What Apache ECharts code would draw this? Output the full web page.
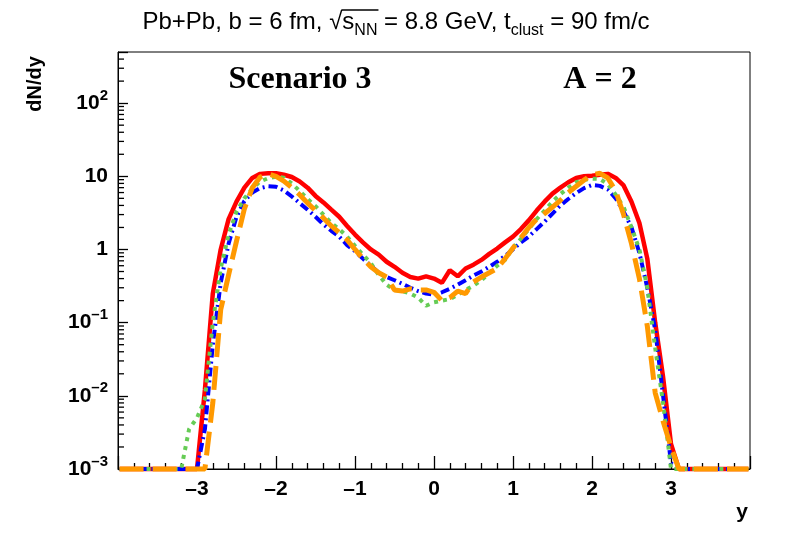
<!DOCTYPE html>
<html>
<head>
<meta charset="utf-8">
<script src="https://cdn.jsdelivr.net/npm/echarts@6/dist/echarts.min.js"></script>
<style>
  html, body { margin: 0; padding: 0; background: #fff; }
  #chart { width: 788px; height: 534px; }
</style>
</head>
<body>
<div id="chart"></div>
<script>
// rapidity bins (bin centres)
const ys = [-3.98, -3.2, -3.1, -3.0, -2.9, -2.8, -2.7, -2.6, -2.5, -2.4, -2.3, -2.2, -2.1, -2.0,
  -1.9, -1.8, -1.7, -1.6, -1.5, -1.4, -1.3, -1.2, -1.1, -1.0, -0.9, -0.8, -0.7, -0.6, -0.5,
  -0.4, -0.3, -0.2, -0.1, 0.0, 0.1, 0.2, 0.3, 0.4, 0.5, 0.6, 0.7, 0.8, 0.9, 1.0, 1.1, 1.2,
  1.3, 1.4, 1.5, 1.6, 1.7, 1.8, 1.9, 2.0, 2.1, 2.2, 2.3, 2.4, 2.5, 2.6, 2.7, 2.8, 2.9, 3.0,
  3.1, 3.98];

// dN/dy, red solid
const redVals = [0.001, 0.001, 0.001, 0.001, 0.012, 0.25, 1.0, 2.6, 4.5, 7.0, 9.5, 10.8, 11.0, 11.0,
  10.5, 9.8, 8.5, 7.0, 5.4, 4.4, 3.5, 2.8, 2.1, 1.6, 1.25, 1.0, 0.85, 0.68, 0.58,
  0.48, 0.42, 0.40, 0.43, 0.40, 0.35, 0.52, 0.43, 0.55, 0.62, 0.72, 0.87, 1.03, 1.25, 1.5, 1.9, 2.5,
  3.4, 4.5, 5.8, 7.0, 8.3, 9.5, 10.0, 10.2, 10.5, 10.8, 9.5, 7.5, 4.5, 2.3, 0.75, 0.1, 0.018, 0.0022,
  0.001, 0.001];

// dN/dy, blue dash-dot
const blueVals = [0.001, 0.001, 0.001, 0.001, 0.0035, 0.05, 0.35, 1.2, 2.8, 4.6, 6.0, 6.9, 7.3, 7.2,
  6.4, 5.3, 4.3, 3.5, 2.8, 2.2, 1.8, 1.5, 1.15, 0.95, 0.75, 0.6, 0.48, 0.42, 0.38,
  0.34, 0.30, 0.27, 0.25, 0.24, 0.26, 0.29, 0.33, 0.38, 0.44, 0.50, 0.58, 0.68, 0.82, 1.0, 1.25, 1.5,
  1.9, 2.4, 3.1, 4.0, 4.9, 5.9, 6.9, 7.6, 7.4, 6.6, 5.0, 3.3, 2.0, 0.9, 0.3, 0.08, 0.01, 0.0012,
  0.001, 0.001];

// dN/dy, green dotted
const greenVals = [0.001, 0.001, 0.0035, 0.005, 0.009, 0.1, 0.55, 1.6, 3.3, 5.0, 6.8, 8.5, 9.4, 9.9,
  9.6, 8.0, 6.3, 4.9, 3.9, 3.0, 2.3, 1.9, 1.5, 1.12, 0.85, 0.65, 0.45, 0.33, 0.28,
  0.27, 0.25, 0.22, 0.17, 0.19, 0.20, 0.21, 0.24, 0.28, 0.32, 0.38, 0.48, 0.60, 0.72, 1.05, 1.4, 1.9,
  2.6, 3.4, 4.5, 5.7, 7.0, 8.3, 9.0, 9.3, 9.2, 7.8, 5.6, 3.8, 2.0, 1.0, 0.3, 0.045, 0.008, 0.001,
  0.001, 0.001];

// dN/dy, orange long dash
const orangeVals = [0.001, 0.001, 0.001, 0.001, 0.001, 0.008, 0.15, 0.45, 1.3, 3.6, 7.0, 9.8, 10.8, 10.0,
  8.6, 7.0, 5.6, 4.3, 3.4, 2.7, 2.1, 1.7, 1.35, 1.0, 0.75, 0.58, 0.48, 0.42, 0.28,
  0.27, 0.29, 0.28, 0.28, 0.26, 0.20, 0.22, 0.27, 0.25, 0.36, 0.42, 0.48, 0.55, 0.75, 1.05, 1.45, 2.0,
  2.6, 3.1, 3.8, 4.7, 6.0, 7.3, 8.9, 10.5, 11.0, 9.5, 6.3, 3.0, 1.2, 0.4, 0.09, 0.011, 0.0045, 0.002,
  0.001, 0.001];

// log axis minor ticks: mantissas x decades
const minorMantissas = [2, 3, 4, 5, 6, 7, 8, 9];
const minorDecades = [0.001, 0.01, 0.1, 1, 10, 100];
const yMax = 500;

const FONT = '"Liberation Sans", Arial, Helvetica, sans-serif';
const TITLE_SIZE = 24;
const SUB_SIZE = 16;
const TITLE_CX = 396;
const TITLE_CY = 22;
const TICK_W = 1.3;

function pairs(vals) {
  return ys.map((y, i) => [y, vals[i]]);
}

const minorTicks = [];
minorDecades.forEach(d => {
  minorMantissas.forEach(m => {
    if (m * d < yMax) minorTicks.push([-4, m * d]);
  });
});

function supLabel(v) {
  const l = Math.log10(v);
  const e = Math.round(l);
  if (Math.abs(l - e) > 1e-6) return '';
  if (e === 0) return '{b|1}';
  if (e === 1) return '{b|10}';
  return '{b|10}{s|' + (e < 0 ? '\u2013' + (-e) : e) + '}';
}

// measure title pieces so the sqrt bar can sit over s_NN
const ctx = document.createElement('canvas').getContext('2d');
function tw(str, size) {
  ctx.font = size + 'px ' + FONT;
  return ctx.measureText(str).width;
}
const tParts = [
  ['Pb+Pb, b = 6 fm, \u221A', TITLE_SIZE], ['s', TITLE_SIZE], ['NN', SUB_SIZE],
  [' = 8.8 GeV, t', TITLE_SIZE], ['clust', SUB_SIZE], [' = 90 fm/c', TITLE_SIZE]
];
const tWidths = tParts.map(p => tw(p[0], p[1]));
const tTotal = tWidths.reduce((a, b) => a + b, 0);
const tLeft = TITLE_CX - tTotal / 2;
const barX1 = tLeft + tWidths[0] - 1;
const barX2 = barX1 + tWidths[1] + tWidths[2] + 2;

const chart = echarts.init(document.getElementById('chart'));

const option = {
  animation: false,
  backgroundColor: '#fff',
  grid: {
    left: 118, right: 38, top: 52, bottom: 65,
    show: true, borderColor: '#000', borderWidth: 1
  },
  xAxis: {
    type: 'value',
    min: -4, max: 4, interval: 1,
    axisLine: { show: true, onZero: false, lineStyle: { color: '#000', width: 1 } },
    axisTick: { show: true, inside: true, length: 13, lineStyle: { color: '#000', width: TICK_W } },
    minorTick: { show: true, splitNumber: 5, length: 6, lineStyle: { color: '#000', width: TICK_W } },
    splitLine: { show: false },
    axisLabel: {
      showMinLabel: false, showMaxLabel: false,
      margin: 10,
      color: '#000', fontSize: 21, fontWeight: 'bold', fontFamily: FONT,
      formatter: v => (v < 0 ? '\u2013' + (-v) : '' + v)
    }
  },
  yAxis: {
    type: 'log', logBase: 10,
    min: 0.001, max: yMax,
    axisLine: { show: true, onZero: false, lineStyle: { color: '#000', width: 1 } },
    axisTick: { show: true, inside: true, length: 10, lineStyle: { color: '#000', width: TICK_W } },
    splitLine: { show: false },
    axisLabel: {
      margin: 10,
      color: '#000', fontFamily: FONT,
      formatter: supLabel,
      rich: {
        b: { fontSize: 21, fontWeight: 'bold', fontFamily: FONT, color: '#000', lineHeight: 30 },
        s: { fontSize: 15, fontWeight: 'bold', fontFamily: FONT, color: '#000', verticalAlign: 'top', lineHeight: 18 }
      }
    }
  },
  graphic: [
    {
      type: 'text', x: tLeft, y: TITLE_CY,
      style: {
        text: '{n|' + tParts[0][0] + '}{n|s}{sub|NN}{n|' + tParts[3][0] + '}{sub|clust}{n|' + tParts[5][0] + '}',
        align: 'left', verticalAlign: 'middle',
        rich: {
          n: { fontSize: TITLE_SIZE, fontFamily: FONT, fill: '#000', lineHeight: 34 },
          sub: { fontSize: SUB_SIZE, fontFamily: FONT, fill: '#000', verticalAlign: 'bottom', lineHeight: 16 }
        }
      }
    },
    {
      type: 'line', shape: { x1: barX1, y1: TITLE_CY - 12, x2: barX2, y2: TITLE_CY - 12 },
      style: { stroke: '#000', lineWidth: 1.3 }
    },
    {
      type: 'text', x: 300, y: 80,
      style: {
        text: 'Scenario 3', fill: '#000', align: 'center', verticalAlign: 'middle',
        font: 'bold 32px "Liberation Serif", "Times New Roman", serif'
      }
    },
    {
      type: 'text', x: 600, y: 80,
      style: {
        text: 'A = 2', fill: '#000', align: 'center', verticalAlign: 'middle',
        font: 'bold 32px "Liberation Serif", "Times New Roman", serif'
      }
    },
    {
      type: 'text', x: 35, y: 84, rotation: Math.PI / 2,
      style: {
        text: 'dN/dy', fill: '#000', align: 'center', verticalAlign: 'middle',
        font: 'bold 20px ' + FONT
      }
    },
    {
      type: 'text', x: 742, y: 512,
      style: {
        text: 'y', fill: '#000', align: 'center', verticalAlign: 'middle',
        font: 'bold 21px ' + FONT
      }
    }
  ],
  series: [
    {
      name: 'minor ticks', type: 'custom', silent: true, z: 3,
      data: minorTicks,
      renderItem: function (params, api) {
        const p = api.coord([api.value(0), api.value(1)]);
        return {
          type: 'line',
          shape: { x1: p[0], y1: p[1], x2: p[0] + 6, y2: p[1] },
          style: { stroke: '#000', lineWidth: TICK_W }
        };
      }
    },
    {
      name: 'red', type: 'line', data: pairs(redVals), showSymbol: false, clip: false, z: 4,
      lineStyle: { color: '#ff0000', width: 4.5 }
    },
    {
      name: 'blue', type: 'line', data: pairs(blueVals), showSymbol: false, clip: false, z: 5,
      lineStyle: { color: '#0000ff', width: 4, type: [9, 4, 2, 4], cap: 'butt' }
    },
    {
      name: 'green', type: 'line', data: pairs(greenVals), showSymbol: false, clip: false, z: 6,
      lineStyle: { color: '#66cc55', width: 4, type: [4, 5], cap: 'butt' }
    },
    {
      name: 'orange', type: 'line', data: pairs(orangeVals), showSymbol: false, clip: false, z: 7,
      lineStyle: { color: '#ff9900', width: 5, type: [24, 9], cap: 'butt' }
    }
  ]
};

chart.setOption(option);
</script>
</body>
</html>
